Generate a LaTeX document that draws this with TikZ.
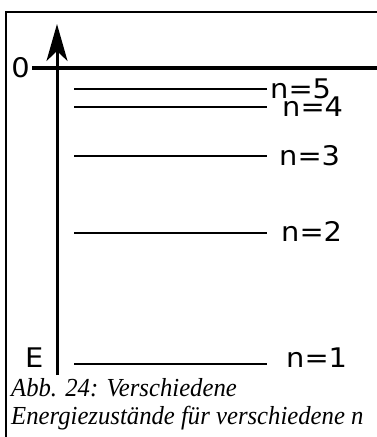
\documentclass[tikz,border=0pt]{standalone}
\usepackage{fontspec}
\newfontfamily\labfont[FakeStretch=1.07]{DejaVu Sans}
\newfontfamily\capfont[FakeStretch=0.95]{Liberation Serif}
\usetikzlibrary{arrows.meta}
\begin{document}
\begin{tikzpicture}[x=1pt,y=-1pt,
  lab/.style={font=\labfont\fontsize{27}{32}\selectfont,inner sep=0pt,anchor=west},
  captext/.style={font=\capfont\itshape\fontsize{26}{30}\selectfont,inner sep=0pt,anchor=base west},
  level/.style={line width=1.5pt},
  frameline/.style={line width=2.4pt}]
\useasboundingbox (0,0) rectangle (377,437);
\fill[white] (0,0) rectangle (377,437);
% frame
\coordinate (fl) at (6,437);
\coordinate (ftl) at (6,12);
\coordinate (ftr) at (380,12);
\draw[frameline] (fl) -- (ftl) -- (ftr);
% axis
\coordinate (abot) at (57,375);
\coordinate (atop) at (57,24);
\draw[line width=3pt,-{Stealth[length=37pt,width=21pt,inset=10pt]}] (abot) -- (atop);
% zero line
\coordinate (z0) at (32,68);
\coordinate (z1) at (380,68);
\draw[line width=3.5pt] (z0) -- (z1);
\node[lab,anchor=east] (zero) at (30,68) {0};
\node[lab] (E) at (25,358) {E};
% levels
\foreach \n/\y in {5/89,4/107,3/156,2/233,1/364}{
  \coordinate (l\n a) at (74,\y);
  \coordinate (l\n b) at (267,\y);
  \draw[level] (l\n a) -- (l\n b);
}
\node[lab] (n5) at (270,89) {n=5};
\node[lab] (n4) at (282,107) {n=4};
\node[lab] (n3) at (279,156) {n=3};
\node[lab] (n2) at (281,231) {n=2};
\node[lab] (n1) at (286,358) {n=1};
% caption
\node[captext] (c1) at (11,396) {Abb. 24: Verschiedene};
\node[captext] (c2) at (11,424) {Energiezustände für verschiedene n};
\end{tikzpicture}
\end{document}
